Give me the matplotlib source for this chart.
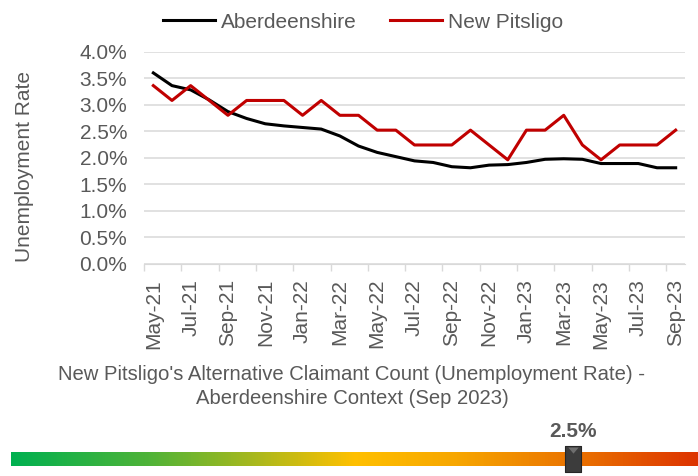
import numpy as np
import matplotlib
matplotlib.use("Agg")
import matplotlib.pyplot as plt
from matplotlib.colors import LinearSegmentedColormap
from matplotlib.path import Path

plt.rcParams['font.family'] = ['Liberation Sans', 'DejaVu Sans']

# monthly categories
months = ['May-21', 'Jun-21', 'Jul-21', 'Aug-21', 'Sep-21', 'Oct-21', 'Nov-21', 'Dec-21',
          'Jan-22', 'Feb-22', 'Mar-22', 'Apr-22', 'May-22', 'Jun-22', 'Jul-22', 'Aug-22',
          'Sep-22', 'Oct-22', 'Nov-22', 'Dec-22', 'Jan-23', 'Feb-23', 'Mar-23', 'Apr-23',
          'May-23', 'Jun-23', 'Jul-23', 'Aug-23', 'Sep-23']

# unemployment rate, %
aberdeenshire = [3.60, 3.36, 3.28, 3.09, 2.87, 2.74, 2.64, 2.60, 2.57, 2.54, 2.41, 2.22,
                 2.10, 2.02, 1.94, 1.91, 1.83, 1.81, 1.86, 1.87, 1.91, 1.97, 1.98, 1.97,
                 1.89, 1.89, 1.89, 1.81, 1.81]
new_pitsligo = [3.36, 3.08, 3.36, 3.08, 2.80, 3.08, 3.08, 3.08, 2.80, 3.08, 2.80, 2.80,
                2.52, 2.52, 2.24, 2.24, 2.24, 2.52, 2.24, 1.96, 2.52, 2.52, 2.80, 2.24,
                1.96, 2.24, 2.24, 2.24, 2.52]

# context bar
scale_min = 0.0
scale_max = 3.08
grad_stops = [0.0, 0.2, 0.35, 0.5, 0.65, 0.85, 1.0]
grad_colors = ['#00b050', '#4fb338', '#a6b81e', '#ffc000', '#f7a600', '#e86a00', '#dd3300']

txt = '#595959'

fig = plt.figure(figsize=(6.98, 4.76), dpi=100)
ax = fig.add_axes([144 / 698, 1 - 263.7 / 476, 541 / 698, 212 / 476])

x = np.arange(len(months))
ax.plot(x, aberdeenshire, color='black', lw=2.2, label='Aberdeenshire')
ax.plot(x, new_pitsligo, color='#c00000', lw=2.2, label='New Pitsligo')

ax.set_xlim(-0.5, len(months) - 0.5)
ax.set_ylim(0, 4)
ax.set_yticks(np.arange(0, 4.01, 0.5))
ax.yaxis.set_major_formatter(lambda v, p: f'{v:.1f}%')
ax.grid(axis='y', color='#d9d9d9', lw=1.1)
ax.set_axisbelow(True)
for s in ['top', 'right', 'left']:
    ax.spines[s].set_visible(False)
ax.spines['bottom'].set_color('#d9d9d9')
ax.tick_params(axis='y', length=0, pad=12, labelsize=15, labelcolor=txt)

ax.set_xticks(x[::2])
ax.set_xticklabels(months[::2], rotation=90)
ax.tick_params(axis='x', length=0, pad=11, labelsize=15, labelcolor=txt)
ax.set_xticks(np.arange(-0.5, len(months) - 1, 2), minor=True)
ax.tick_params(axis='x', which='minor', length=5, color='#d9d9d9', width=1)

fig.text(25 / 698, 1 - 167 / 476, 'Unemployment Rate', rotation=90,
         ha='center', va='center', fontsize=15, color=txt)

fig.legend(loc='center', bbox_to_anchor=(363 / 698, 1 - 22 / 476), ncol=2,
           frameon=False, fontsize=15, handlelength=2.5, handletextpad=0.3,
           columnspacing=1.6, labelcolor=txt)

fig.text(352 / 698, 1 - 374 / 476,
         "New Pitsligo's Alternative Claimant Count (Unemployment Rate) -",
         ha='center', va='center', fontsize=14.6, color=txt)
fig.text(352 / 698, 1 - 398 / 476, 'Aberdeenshire Context (Sep 2023)',
         ha='center', va='center', fontsize=14.6, color=txt)

# gradient context bar
bar = fig.add_axes([11 / 698, 1 - 465.7 / 476, 687 / 698, 14 / 476])
cmap = LinearSegmentedColormap.from_list('ctx', list(zip(grad_stops, grad_colors)))
bar.imshow(np.linspace(0, 1, 512)[None, :], cmap=cmap, aspect='auto',
           extent=(scale_min, scale_max, 0, 1))
bar.set_xlim(scale_min, scale_max)
bar.set_ylim(0, 1)
bar.axis('off')

current = new_pitsligo[-1]
rect = Path([(-0.615, -1), (0.615, -1), (0.615, 1), (-0.615, 1), (-0.615, -1)],
            [Path.MOVETO, Path.LINETO, Path.LINETO, Path.LINETO, Path.CLOSEPOLY])
tri = Path([(0, -1), (-0.4, 0.92), (0.4, 0.92), (0, 0.45), (-0.4, 0.92)],
           [Path.MOVETO, Path.MOVETO, Path.LINETO, Path.LINETO, Path.CLOSEPOLY])
bar.plot([current], [0.5], marker=rect, ms=26 * 0.72, mfc='#3c3c3c', mec='#262626',
         mew=0.8, clip_on=False, zorder=5)
bar.plot([current], [0.5], marker=tri, ms=26 * 0.72, mfc='#6e6e6e', mec='none',
         clip_on=False, zorder=6)
bar.annotate(f'{current:.1f}%', (current, 0.5), xytext=(0, 19.6),
             textcoords='offset points', ha='center', va='center', fontsize=15,
             fontweight='bold', color=txt, annotation_clip=False)

fig.savefig('out.png', dpi=100)
